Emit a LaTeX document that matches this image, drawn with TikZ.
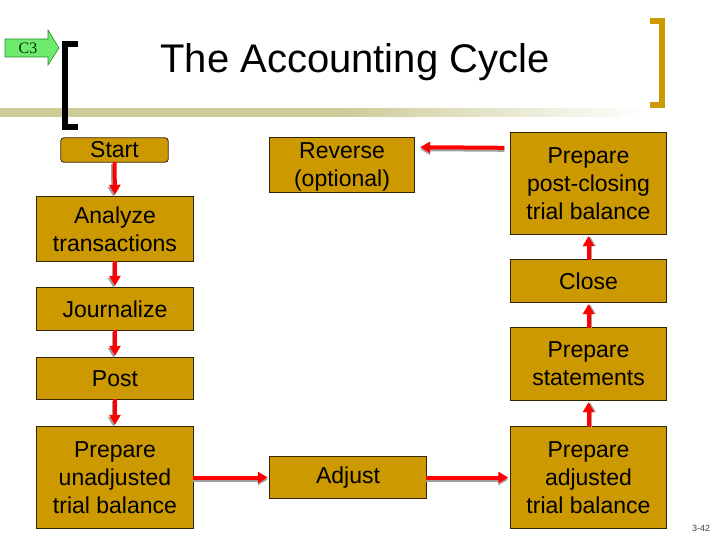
\documentclass[tikz,border=0pt]{standalone}
\usepackage{fontspec}
\setmainfont{Liberation Sans}
\newfontfamily\tagfont{Liberation Serif}
\usetikzlibrary{arrows.meta,calc,backgrounds}
\definecolor{cyclegold}{HTML}{CC9900}
\definecolor{cycleedge}{HTML}{322406}
\definecolor{barkhaki}{HTML}{CCCC99}
\definecolor{taggreen}{HTML}{6EEB6E}
\definecolor{tagedge}{HTML}{288C28}
% red flow arrow with a grey shadow: shift, from, to
\newcommand{\flowarrow}[3]{%
  \draw[flow,gray!75,transform canvas={shift={#1}}] #2 -- #3;
  \draw[flow,red] #2 -- #3;}
\begin{document}
\begin{tikzpicture}[x=1pt,y=-1pt,line join=miter,
  stepbox/.style={font=\fontsize{23}{28}\selectfont,align=center,minimum width=156pt},
  boxfill/.style={draw=cycleedge,line width=0.8pt,fill=cyclegold},
  flow/.style={line width=4pt,shorten >=2pt,-{Triangle[length=10pt,width=11pt]}}]
  \useasboundingbox (0,0) rectangle (720,540);
  % steps
  \node[stepbox,minimum width=107pt,minimum height=24pt] (start) at (114.5,150) {Start};
  \node[stepbox,minimum height=64pt] (analyze) at (115,229) {Analyze\\transactions};
  \node[stepbox,minimum height=42pt] (journal) at (115,309) {Journalize};
  \node[stepbox,minimum height=41pt] (post) at (115,378.5) {Post};
  \node[stepbox,minimum height=101pt] (unadj) at (115,477.5) {Prepare\\unadjusted\\trial balance};
  \node[stepbox,minimum height=41pt] (adjust) at (348,477.5) {Adjust};
  \node[stepbox,minimum height=101pt] (adjtb) at (588.5,477.5) {Prepare\\adjusted\\trial balance};
  \node[stepbox,minimum height=72pt] (stmts) at (588.5,364) {Prepare\\statements};
  \node[stepbox,minimum height=42pt] (close) at (588.5,281) {Close};
  \node[stepbox,minimum height=101pt] (pclose) at (588.5,183.5) {Prepare\\post-closing\\trial balance};
  \node[stepbox,minimum width=144pt,minimum height=54pt] (reverse) at (342,167) {Reverse\\(optional)};
  \begin{scope}[on background layer]
    \filldraw[boxfill,rounded corners=3pt] (start.north west) rectangle (start.south east);
    \foreach \n in {analyze,journal,post,unadj,adjust,adjtb,stmts,close,pclose}
      \filldraw[boxfill] (\n.north west) rectangle (\n.south east);
    \filldraw[boxfill] ($(reverse.north west)+(0,-2)$) rectangle ($(reverse.south east)+(0,-2)$);
  \end{scope}
  % arrows
  \flowarrow{(-1.5,2)}{(start.south)}{(analyze.north)}
  \flowarrow{(-1.5,2)}{(analyze.south)}{(journal.north)}
  \flowarrow{(-1.5,2)}{(journal.south)}{(post.north)}
  \flowarrow{(-1.5,2)}{(post.south)}{(unadj.north)}
  \flowarrow{(0,2)}{(unadj.east)}{(adjust.west)}
  \flowarrow{(0,2)}{(adjust.east)}{(adjtb.west)}
  \flowarrow{(1.5,0)}{(adjtb.north)}{(stmts.south)}
  \flowarrow{(1.5,0)}{(stmts.north)}{(close.south)}
  \flowarrow{(1.5,0)}{(close.north)}{(pclose.south)}
  \flowarrow{(0,2)}{($(pclose.north west)+(-6,15)$)}{($(reverse.north east)+(4,8)$)}
  % header
  \fill[barkhaki] (0,108) rectangle (340,117);
  \foreach \i in {0,...,29}
    \fill[barkhaki!\fpeval{100-\i*100/30}!white] (340+\i*10,108) rectangle (350.5+\i*10,117);
  \draw[line width=6pt] (78,44) -- (65,44) -- (65,127) -- (78,127);
  \draw[cyclegold,line width=6pt] (650,21) -- (662,21) -- (662,105) -- (650,105);
  \node[font=\fontsize{40}{48}\selectfont,anchor=base] (title) at (355,73) {The Accounting Cycle};
  \filldraw[fill=taggreen,draw=tagedge,line width=0.6pt] (5,39) -- (48,39) -- (48,30) -- (59,48)
    -- (48,65) -- (48,57) -- (5,57) -- cycle;
  \node[font=\tagfont\fontsize{16}{16}\selectfont,text=black!80!green] (tag) at (28,48.5) {C3};
  \node[font=\fontsize{9}{9}\selectfont,text=black!75] (pagenum) at (701,528) {3-42};
\end{tikzpicture}
\end{document}
